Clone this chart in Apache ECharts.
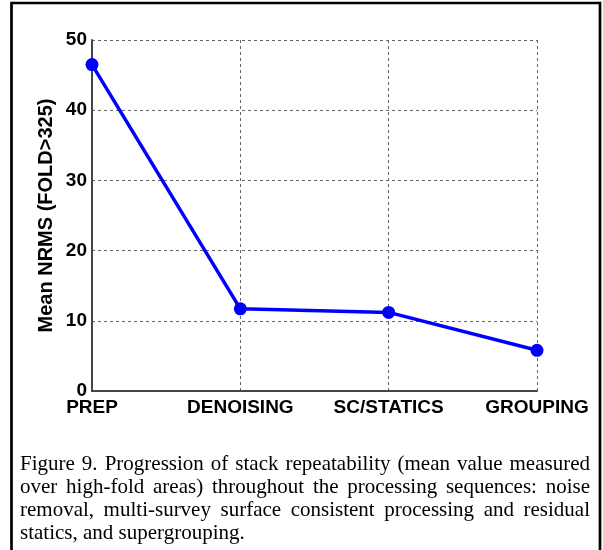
<!DOCTYPE html>
<html>
<head>
<meta charset="utf-8">
<script src="https://cdn.jsdelivr.net/npm/echarts@6/dist/echarts.min.js"></script>
<style>
html,body{margin:0;padding:0;background:#fff;}
#chart{width:603px;height:550px;}
</style>
</head>
<body>
<div id="chart"></div>
<script>
var categories = ['PREP', 'DENOISING', 'SC/STATICS', 'GROUPING'];
var nrmsValues = [46.5, 11.7, 11.2, 5.8];
var yAxisName = 'Mean NRMS (FOLD>325)';
var captionLines = [
  'Figure 9. Progression of stack repeatability (mean value measured',
  'over high-fold areas) throughout the processing sequences: noise',
  'removal, multi-survey surface consistent processing and residual',
  'statics, and supergrouping.'
];

var captionFont = '21px "Liberation Serif", "Times New Roman", serif';
var cv = document.createElement('canvas');
var ctx = cv.getContext('2d');
ctx.font = captionFont;

var capLeft = 20, capRight = 590, capTop = 454, capStep = 23;
var captionGraphics = [];
captionLines.forEach(function (line, i) {
  var words = line.split(' ');
  var widths = words.map(function (w) { return ctx.measureText(w).width; });
  var total = widths.reduce(function (a, b) { return a + b; }, 0);
  var last = i === captionLines.length - 1;
  var gap = last ? ctx.measureText(' ').width : (capRight - capLeft - total) / (words.length - 1);
  var x = capLeft;
  words.forEach(function (w, j) {
    captionGraphics.push({
      type: 'text',
      left: x,
      top: capTop + i * capStep,
      style: { text: w, font: captionFont, fill: '#000' }
    });
    x += widths[j] + gap;
  });
});

var chart = echarts.init(document.getElementById('chart'));
var option = {
  animation: false,
  backgroundColor: '#fff',
  grid: { left: 92, right: 66, top: 40, bottom: 159 },
  xAxis: {
    type: 'category',
    data: categories,
    boundaryGap: false,
    axisLine: { show: true, lineStyle: { color: '#444', width: 2 } },
    axisTick: { show: false },
    axisLabel: { color: '#000', fontWeight: 'bold', fontSize: 19, fontFamily: '"Liberation Sans", Arial, sans-serif', margin: 7, interval: 0 },
    splitLine: { show: true, lineStyle: { color: '#666', type: [3, 3], width: 1 } }
  },
  yAxis: {
    type: 'value',
    min: 0, max: 50, interval: 10,
    name: yAxisName,
    nameLocation: 'middle',
    nameGap: 36,
    nameMoveOverlap: false,
    nameTextStyle: { color: '#000', fontWeight: 'bold', fontSize: 20, fontFamily: '"Liberation Sans", Arial, sans-serif' },
    axisLine: { show: true, lineStyle: { color: '#444', width: 2 } },
    axisTick: { show: false },
    axisLabel: { color: '#000', fontWeight: 'bold', fontSize: 19, fontFamily: '"Liberation Sans", Arial, sans-serif', margin: 5 },
    splitLine: { show: true, lineStyle: { color: '#666', type: [3, 3], width: 1 } }
  },
  series: [{
    type: 'line',
    data: nrmsValues,
    symbol: 'circle',
    symbolSize: 13,
    lineStyle: { color: '#0000ff', width: 3.5 },
    itemStyle: { color: '#0000ff' },
    z: 5
  }],
  graphic: [{
    type: 'rect',
    shape: { x: 11.5, y: 3, width: 588.5, height: 570 },
    style: { fill: 'none', stroke: '#000', lineWidth: 2.7 },
    silent: true
  }].concat(captionGraphics)
};
chart.setOption(option);
</script>
</body>
</html>
